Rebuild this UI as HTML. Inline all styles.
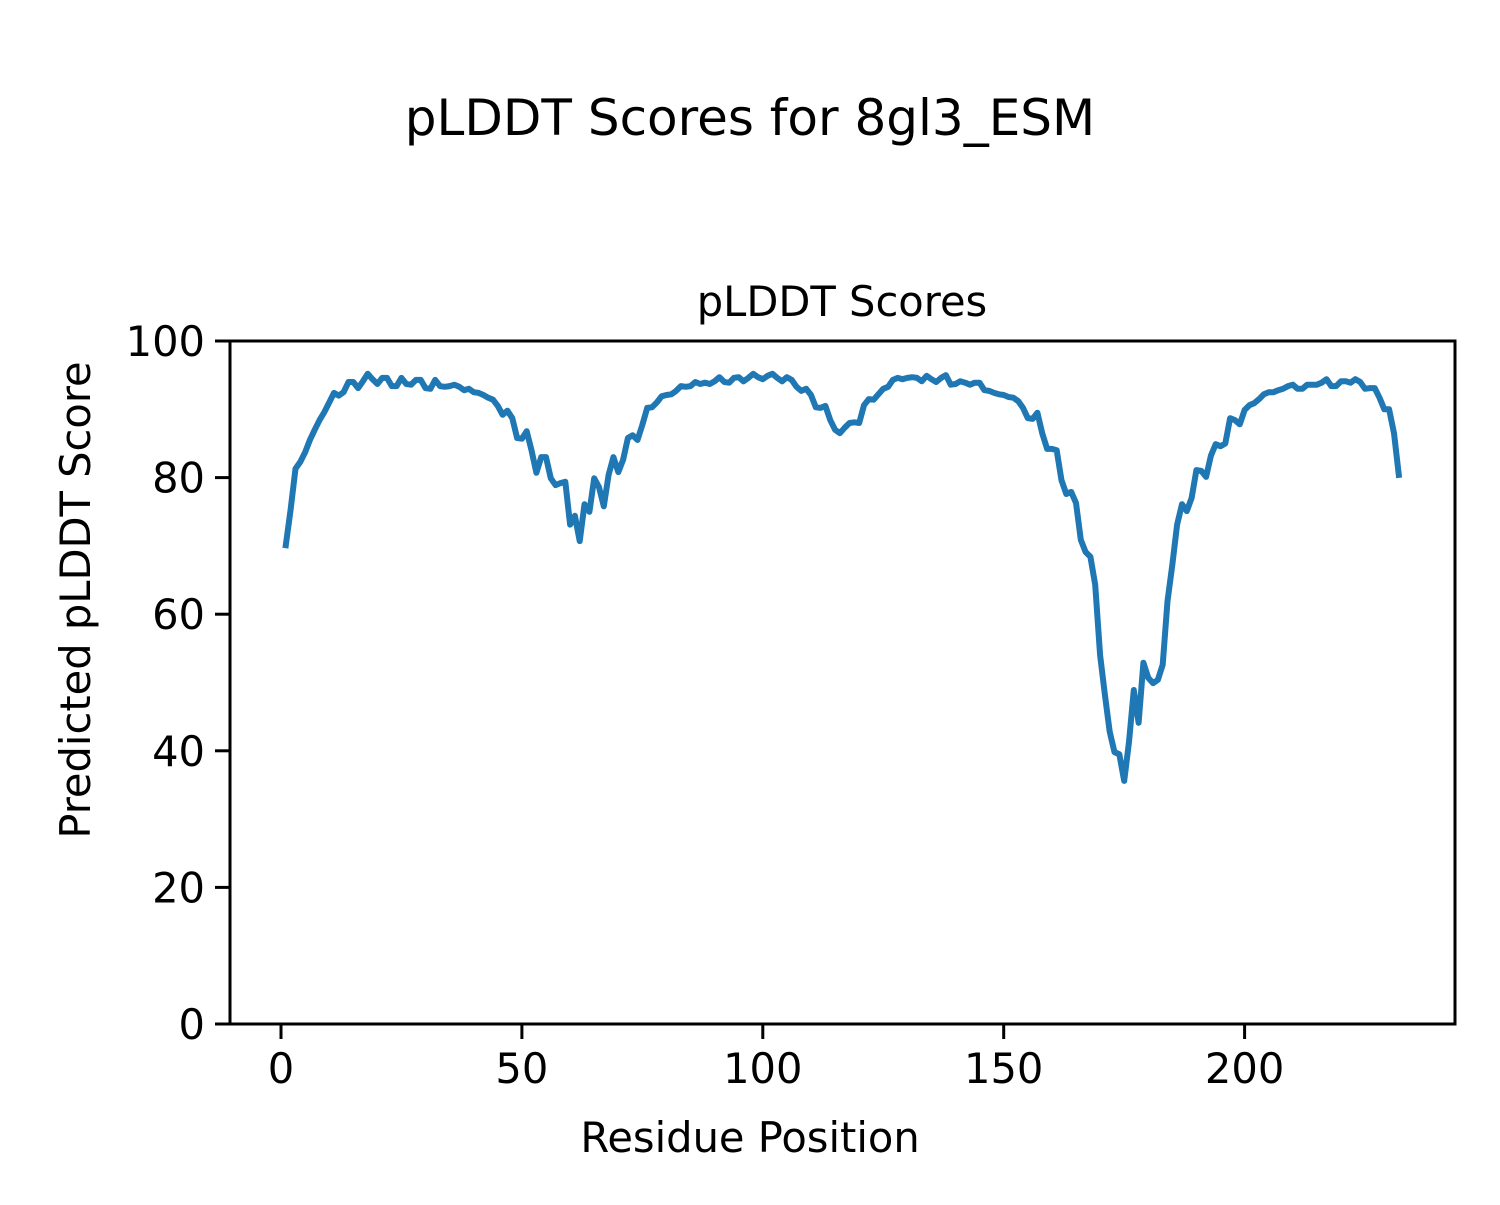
<!DOCTYPE html>
<html><head><meta charset="utf-8"><style>
html,body{margin:0;padding:0;background:#fff}
svg text{font-family:"DejaVu Sans","Liberation Sans",sans-serif;fill:#000}
</style></head><body>
<svg id="chart" width="1500" height="1200" xmlns="http://www.w3.org/2000/svg">
<rect width="1500" height="1200" fill="#fff"/>
<text x="750" y="135" font-size="50" text-anchor="middle">pLDDT Scores for 8gl3_ESM</text>
<text x="842" y="316" font-size="41.6" text-anchor="middle">pLDDT Scores</text>
<text x="750" y="1152" font-size="41.6" text-anchor="middle">Residue Position</text>
<text x="0" y="0" font-size="41.6" text-anchor="middle" transform="translate(90,600) rotate(-90)">Predicted pLDDT Score</text>
<g id="xticks"></g>
<g id="yticks"></g>
<path id="line" fill="none" stroke="#1f77b4" stroke-width="6" stroke-linejoin="round" stroke-linecap="square"/>
<rect x="230" y="341" width="1225" height="683" fill="none" stroke="#000" stroke-width="3"/>
</svg>
<script>
const residues = [];
for (let i = 1; i <= 232; i++) residues.push(i);
const scores = [70.1,75.3,81.3,82.3,83.7,85.5,87,88.4,89.6,91,92.4,92,92.5,94,94,93.1,94.1,95.2,94.4,93.7,
94.6,94.6,93.4,93.4,94.6,93.7,93.6,94.3,94.3,93.1,93,94.3,93.4,93.3,93.4,93.6,93.3,92.8,93,92.5,
92.4,92.1,91.7,91.4,90.5,89.2,89.8,88.7,85.8,85.7,86.8,84,80.7,83,83,79.9,78.9,79.2,79.4,73.1,
74.4,70.7,76.1,75,79.9,78.6,75.8,80.4,83,80.8,82.6,85.8,86.2,85.5,87.7,90.2,90.3,91,91.9,92.1,
92.2,92.7,93.4,93.3,93.4,94,93.7,93.9,93.7,94.1,94.7,94,93.9,94.6,94.7,94.1,94.6,95.2,94.7,94.4,
94.9,95.2,94.6,94.1,94.7,94.3,93.3,92.7,93,92.1,90.3,90.2,90.5,88.4,87,86.5,87.3,88,88.1,88,
90.6,91.5,91.4,92.2,93,93.3,94.3,94.6,94.4,94.6,94.7,94.6,94.1,94.9,94.4,94,94.6,95,93.6,93.7,
94.1,93.9,93.6,93.9,93.9,92.8,92.7,92.4,92.2,92.1,91.8,91.7,91.2,90.2,88.7,88.6,89.5,86.5,84.2,84.2,
84,79.6,77.6,77.9,76.3,70.9,69.1,68.4,64.3,54,48.2,42.8,39.8,39.5,35.6,41.3,48.9,44.1,52.9,50.7,
49.9,50.4,52.6,61.9,67.2,73.1,76.1,75.1,77,81.1,81,80.1,83.2,84.9,84.6,85,88.7,88.4,87.8,89.9,
90.6,90.9,91.5,92.2,92.5,92.5,92.8,93,93.4,93.6,93,93,93.6,93.6,93.6,93.9,94.4,93.4,93.4,94.1,
94.1,93.9,94.4,94,93,93.1,93.1,91.7,90,90,86.5,80.4];
const xTicks = [0,50,100,150,200];
const yTicks = [0,20,40,60,80,100];

const xScale = v => 281 + (v) * 4.818;
const yScale = v => 1024 - v * 6.83;
const NS = "http://www.w3.org/2000/svg";

let d = "";
residues.forEach((r, i) => { d += (i ? "L" : "M") + xScale(r).toFixed(1) + "," + yScale(scores[i]).toFixed(1); });
document.getElementById("line").setAttribute("d", d);

const xg = document.getElementById("xticks");
xTicks.forEach(t => {
  const x = xScale(t);
  const ln = document.createElementNS(NS, "line");
  ln.setAttribute("x1", x); ln.setAttribute("x2", x); ln.setAttribute("y1", 1024); ln.setAttribute("y2", 1039);
  ln.setAttribute("stroke", "#000"); ln.setAttribute("stroke-width", "3");
  
  
  xg.appendChild(ln);
  const tx = document.createElementNS(NS, "text");
  tx.setAttribute("x", x); tx.setAttribute("y", 1083); tx.setAttribute("font-size", "41.6"); tx.setAttribute("text-anchor", "middle");
  tx.textContent = t;
  
  
  xg.appendChild(tx);
});
const yg = document.getElementById("yticks");
yTicks.forEach(t => {
  const y = yScale(t);
  const ln = document.createElementNS(NS, "line");
  ln.setAttribute("x1", 215); ln.setAttribute("x2", 230); ln.setAttribute("y1", y); ln.setAttribute("y2", y);
  ln.setAttribute("stroke", "#000"); ln.setAttribute("stroke-width", "3");
  
  
  yg.appendChild(ln);
  const tx = document.createElementNS(NS, "text");
  tx.setAttribute("x", 205); tx.setAttribute("y", y + 15); tx.setAttribute("font-size", "41.6"); tx.setAttribute("text-anchor", "end");
  tx.textContent = t;
  
  
  yg.appendChild(tx);
});
</script>
</body></html>
